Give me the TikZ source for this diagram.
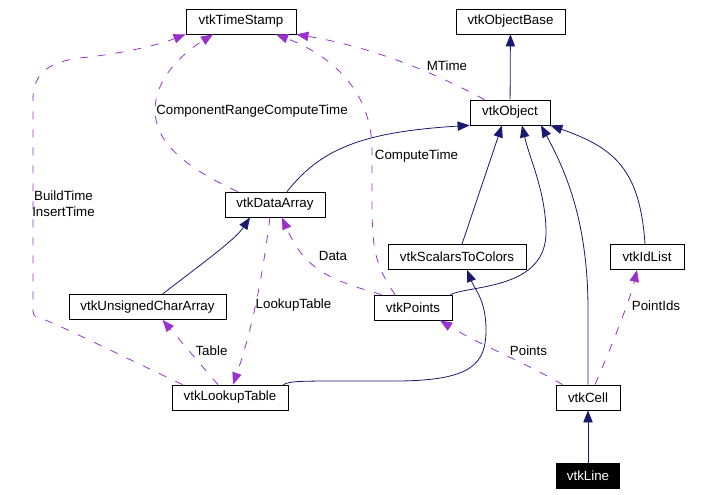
\documentclass[tikz,border=0pt]{standalone}
\usepackage{fontspec}
\setmainfont{Liberation Sans}
\usetikzlibrary{arrows.meta,calc}
\definecolor{inhcol}{RGB}{25,25,112}
\definecolor{usecol}{RGB}{153,50,204}
\tikzset{
  cls/.style={draw, line width=0.6pt, minimum height=18.75pt, inner sep=1pt, font=\fontsize{10}{12}\selectfont},
  inh/.style={draw=inhcol, line width=0.6pt, -{Triangle[length=9pt,width=7pt]}, inhcol},
  usage/.style={draw=usecol, line width=0.6pt, dash pattern=on 6pt off 7.5pt, -{Triangle[length=9pt,width=7pt]}, usecol},
  lbl/.style={font=\fontsize{10}{11.75}\selectfont, inner sep=0pt, align=center}
}
\begin{document}
\begin{tikzpicture}[x=0.75pt, y=-0.75pt]
\useasboundingbox (0,0) rectangle (706,495);
\node[cls, minimum width=82.5pt] (timestamp) at (241,21.5) {vtkTimeStamp};
\node[cls, minimum width=81.75pt] (objectbase) at (510.5,21.5) {vtkObjectBase};
\node[cls, minimum width=60pt] (object) at (510,112.5) {vtkObject};
\node[cls, minimum width=75pt] (dataarray) at (275,204.5) {vtkDataArray};
\node[cls, minimum width=103.5pt] (scalars) at (457,257) {vtkScalarsToColors};
\node[cls, minimum width=55.5pt] (idlist) at (647,257) {vtkIdList};
\node[cls, minimum width=117.75pt] (ucarray) at (147.5,307) {vtkUnsignedCharArray};
\node[cls, minimum width=58.5pt] (points) at (413,307.5) {vtkPoints};
\node[cls, minimum width=87pt] (lut) at (230,397.5) {vtkLookupTable};
\node[cls, minimum width=48pt] (cell) at (588,397.5) {vtkCell};
\node[cls, minimum width=47.25pt, fill=black, text=white] (line) at (588,475.5) {vtkLine};
% inheritance
\draw[inh] (object) -- (objectbase);
\draw[inh] ($(dataarray.north)+(12,0)$) .. controls (320,150) and (360,132) .. (object.south west);
\draw[inh] ($(scalars.north)+(5,0)$) -- ($(object.south)+(-8,0)$);
\draw[inh] ($(points.north east)+(-2,0)$) .. controls (470,285) and (548,290) .. (546,230) .. controls (545,190) and (530,160) .. ($(object.south)+(12,0)$);
\draw[inh] (cell.north) -- (588,310) .. controls (588,220) and (565,170) .. ($(object.south)+(31,0)$);
\draw[inh] ($(idlist.north)+(-2,0)$) .. controls (640,170) and (615,148) .. (object.south east);
\draw[inh] ($(lut.north east)+(-5,0)$) .. controls (290,381) and (300,381) .. (350,381) -- (400,381) .. controls (470,380) and (486,365) .. (486,330) .. controls (486,300) and (475,290) .. ($(scalars.south)+(10,0)$);
\draw[inh] (line) -- (cell);
\draw[inh] ($(ucarray.north)+(15,0)$) .. controls (200,265) and (235,240) .. ($(dataarray.south)+(-25,0)$);
% usage
\draw[usage] ($(lut.north west)+(11,0)$) .. controls (130,360) and (60,325) .. (40,318) .. controls (33,316) .. (33,305) -- (33,100) .. controls (33,72) and (50,62) .. (80,58) .. controls (110,55) and (150,48) .. (timestamp.south west);
\node[lbl] (lbuild) at (63.5,204) {BuildTime\\InsertTime};
\draw[usage] ($(dataarray.north west)+(13,0)$) .. controls (180,165) and (155,140) .. (155,110) .. controls (155,80) and (180,55) .. ($(timestamp.south)+(-28,0)$);
\node[lbl] (lcomp) at (252,111.5) {ComponentRangeComputeTime};
\draw[usage] ($(points.north)+(-18,0)$) .. controls (375,265) and (372,250) .. (372,200) -- (372,150) .. controls (372,90) and (330,55) .. ($(timestamp.south)+(35,0)$);
\node[lbl] (lctime) at (416.5,156.5) {ComputeTime};
\draw[usage] ($(object.north west)+(15,0)$) .. controls (420,65) and (360,45) .. (timestamp.south east);
\node[lbl] (lmtime) at (447,65.5) {MTime};
\draw[usage] ($(points.north west)+(8,0)$) .. controls (330,280) and (305,270) .. ($(dataarray.south)+(7,0)$);
\node[lbl] (ldata) at (333,255.5) {Data};
\draw[usage] ($(dataarray.south)+(-5,0)$) .. controls (262,280) and (252,330) .. ($(lut.north)+(3,0)$);
\node[lbl] (llut) at (293.5,305.5) {LookupTable};
\draw[usage] ($(lut.north)+(-12,0)$) -- ($(ucarray.south)+(15,0)$);
\node[lbl] (ltable) at (211.5,351) {Table};
\draw[usage] ($(cell.north west)+(7,0)$) .. controls (520,360) and (480,345) .. ($(points.south)+(27,0)$);
\node[lbl] (lpoints) at (528.5,351) {Points};
\draw[usage] ($(cell.north)+(7,0)$) .. controls (610,350) and (630,300) .. ($(idlist.south)+(-10,0)$);
\node[lbl] (lpids) at (656,305.5) {PointIds};
\end{tikzpicture}
\end{document}
